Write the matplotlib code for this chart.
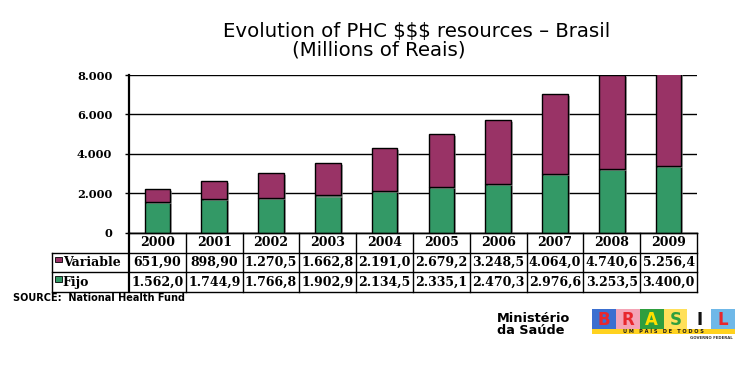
import matplotlib
matplotlib.use("Agg")
import matplotlib.pyplot as plt
import matplotlib.patheffects as pe
from matplotlib.patches import Rectangle
from matplotlib.lines import Line2D

# data
years = ["2000", "2001", "2002", "2003", "2004", "2005", "2006", "2007", "2008", "2009"]
fijo = [1562.0, 1744.9, 1766.8, 1902.9, 2134.5, 2335.1, 2470.3, 2976.6, 3253.5, 3400.0]
variable = [651.9, 898.9, 1270.5, 1662.8, 2191.0, 2679.2, 3248.5, 4064.0, 4740.6, 5256.4]
series_names = ["Variable", "Fijo"]
yticks = [0, 2000, 4000, 6000, 8000]

col_var = "#993366"
col_fijo = "#339966"

W, H = 754, 371


def fx(px):
    return px / W


def fy(py):
    return 1 - py / H


def fmt_br(v):
    # brazilian style: dot thousands, comma decimal, cell keeps 5 digits
    if v < 1000:
        s = "%.2f" % v
    else:
        s = "%.1f" % v
    ip, dp = s.split(".")
    if len(ip) > 3:
        ip = ip[:-3] + "." + ip[-3:]
    return ip + "," + dp


def fmt_tick(v, pos=None):
    return ("{:,}".format(int(v))).replace(",", ".")


fig = plt.figure(figsize=(W / 100, H / 100), dpi=100)
fig.patch.set_facecolor("white")

# chart area
left, right, top, bottom = 129, 697, 75, 233
ax = fig.add_axes([fx(left), fy(bottom), fx(right - left), fy(top) - fy(bottom)])
x = list(range(len(years)))
shadow = [pe.SimplePatchShadow(offset=(1.5, -1.5), shadow_rgbFace="#888888", alpha=0.7), pe.Normal()]
b1 = ax.bar(x, fijo, width=0.45, color=col_fijo, edgecolor="black", linewidth=1.0, zorder=3)
b2 = ax.bar(x, variable, bottom=fijo, width=0.45, color=col_var, edgecolor="black", linewidth=1.0, zorder=3)
for p in list(b1) + list(b2):
    p.set_path_effects(shadow)

ax.set_xlim(-0.5, len(years) - 0.5)
ax.set_ylim(0, 8000)
ax.set_yticks(yticks)
ax.yaxis.set_major_formatter(matplotlib.ticker.FuncFormatter(fmt_tick))
ax.set_xticks([])
ax.grid(axis="y", color="black", linewidth=1.0, zorder=0)
for s in ["top", "right"]:
    ax.spines[s].set_visible(False)
ax.spines["left"].set_linewidth(1.6)
ax.spines["bottom"].set_linewidth(1.0)
ax.tick_params(axis="y", length=3, width=1.0, pad=9.0)
for lab in ax.get_yticklabels():
    lab.set_fontfamily("DejaVu Serif")
    lab.set_fontweight("bold")
    lab.set_fontsize(8.2)

# data table under the chart
lab_w = (129 - 52) / ((right - left) / len(years))
tax = fig.add_axes([fx(52), fy(292), fx(right - 52), fy(233) - fy(292)])
tax.set_xlim(-0.5 - lab_w, len(years) - 0.5)
tax.set_ylim(3, 0)
tax.axis("off")
n = len(years)
lw = 1.0
# horizontal lines
tax.add_line(Line2D([-0.5, n - 0.5], [0, 0], color="black", lw=lw, clip_on=False))
for r in [1, 2, 3]:
    tax.add_line(Line2D([-0.5 - lab_w, n - 0.5], [r, r], color="black", lw=lw, clip_on=False))
# vertical lines
for c in range(n + 1):
    tax.add_line(Line2D([c - 0.5, c - 0.5], [0, 3], color="black", lw=1.6 if c == 0 else lw, clip_on=False))
tax.add_line(Line2D([-0.5 - lab_w, -0.5 - lab_w], [1, 3], color="black", lw=lw, clip_on=False))

cell_font = dict(family="DejaVu Serif", weight="bold", fontsize=9, ha="center", va="center")
for i, yr in enumerate(years):
    tax.text(i, 0.5, yr, **cell_font)
    tax.text(i, 1.5, fmt_br(variable[i]), **cell_font)
    tax.text(i, 2.5, fmt_br(fijo[i]), **cell_font)

for r, (name, col) in enumerate(zip(series_names, [col_var, col_fijo])):
    tax.add_patch(Rectangle((-0.5 - lab_w + 0.06, r + 1.2), 0.11, 0.3, facecolor=col,
                            edgecolor="black", linewidth=0.6, clip_on=False))
    tax.text(-0.5 - lab_w + 0.19, r + 1.5, name, family="DejaVu Serif",
             weight="bold", fontsize=9, ha="left", va="center")

# titles
fig.text(fx(417), fy(32), "Evolution of PHC $$$ resources \u2013 Brasil", family="DejaVu Sans",
         fontsize=14.2, ha="center", va="center")
fig.text(fx(379), fy(49.5), "(Millions of Reais)", family="DejaVu Sans",
         fontsize=14.2, ha="center", va="center")

fig.text(fx(13), fy(298), "SOURCE:  National Health Fund", family="DejaVu Sans", weight="bold",
         fontsize=7.0, ha="left", va="center")

# footer logos
fig.text(fx(497), fy(324.5), "Minist\u00e9rio\nda Sa\u00fade", family="DejaVu Sans", weight="bold",
         fontsize=9.3, ha="left", va="center", linespacing=1.0)

la = fig.add_axes([fx(592), fy(340), fx(735 - 592), fy(309) - fy(340)])
la.set_xlim(0, 6)
la.set_ylim(0, 1)
la.axis("off")
tiles = ["#3b6fd0", "#f4a3b5", "#2e9e3e", "#ffe05a", "#ffffff", "#6fb8e8"]
letters = ["B", "R", "A", "S", "I", "L"]
letter_cols = ["#e8272c", "#e8272c", "#ffdf00", "#2e9e3e", "#111111", "#e8272c"]
for i, (t, l, c) in enumerate(zip(tiles, letters, letter_cols)):
    la.add_patch(Rectangle((i, 0.36), 1, 0.64, facecolor=t, edgecolor="none"))
    la.text(i + 0.5, 0.37, l, family="DejaVu Sans", weight="bold", fontsize=12, color=c,
            ha="center", va="bottom")
la.add_patch(Rectangle((0, 0.19), 6, 0.17, facecolor="#ffd21f", edgecolor="none"))
la.text(3, 0.265, "U M   P A \u00cd S   D E   T O D O S", family="DejaVu Sans", weight="bold",
        fontsize=3.6, ha="center", va="center", color="#1a1a1a")
la.text(5.9, 0.05, "GOVERNO FEDERAL", family="DejaVu Sans", weight="bold", fontsize=2.8,
        ha="right", va="center", color="#333333")

fig.savefig("out.png", dpi=100, facecolor="white")
